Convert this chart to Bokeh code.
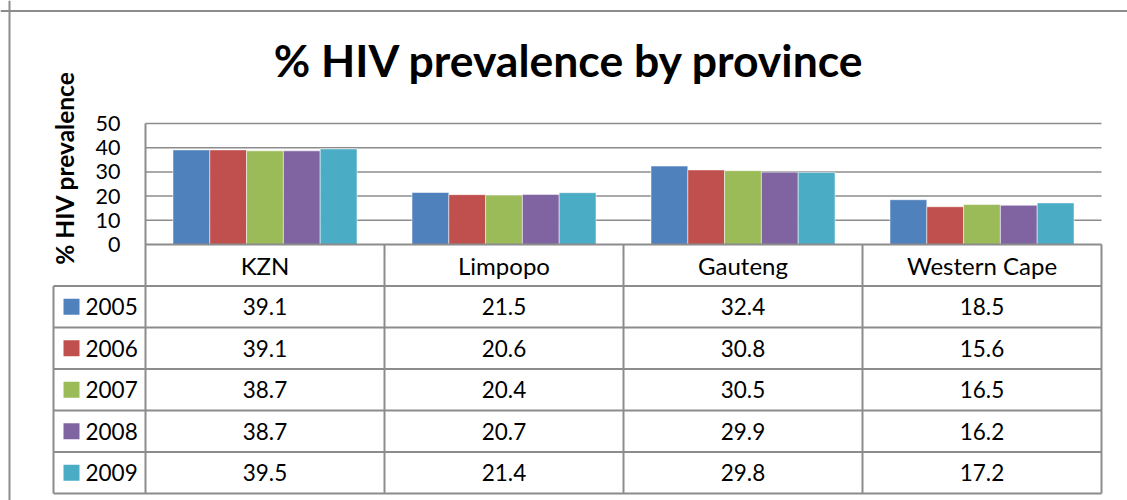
import numpy as np
from bokeh.plotting import figure
from bokeh.models import Range1d, Span
from bokeh.core.properties import value
from bokeh.embed import file_html
from bokeh.resources import INLINE

# ---------------- data ----------------
provinces = ["KZN", "Limpopo", "Gauteng", "Western Cape"]
years = ["2005", "2006", "2007", "2008", "2009"]
v2005 = [39.1, 21.5, 32.4, 18.5]
v2006 = [39.1, 20.6, 30.8, 15.6]
v2007 = [38.7, 20.4, 30.5, 16.5]
v2008 = [38.7, 20.7, 29.9, 16.2]
v2009 = [39.5, 21.4, 29.8, 17.2]
series = [v2005, v2006, v2007, v2008, v2009]
y_ticks = [0, 10, 20, 30, 40, 50]
title_text = "% HIV prevalence by province"
y_label = "% HIV prevalence"
colors = ["#4F81BD", "#C0504D", "#9BBB59", "#8064A2", "#4BACC6"]

# ---------------- layout helpers (picture pixel -> data units) ----------------
ORIGIN = 0.0
FIG_W, FIG_H = 1127, 500
CAT_PX = 239.0      # pixels per category column
Y_PX = 2.42         # pixels per percentage point
X0_PX = 145.0       # x of category 0 left edge
Y0_PX = 244.0       # y of value 0


def fx(px):
    return (px - X0_PX) / CAT_PX


def fy(py):
    return (Y0_PX - py) / Y_PX


FONT = value("Lato")
GRAY = "#8c8c8c"

p = figure(width=FIG_W, height=FIG_H,
           x_range=Range1d(fx(ORIGIN), fx(ORIGIN + FIG_W)),
           y_range=Range1d(fy(ORIGIN + FIG_H), fy(ORIGIN)),
           output_backend="svg", toolbar_location=None,
           x_axis_location=None, y_axis_location=None,
           min_border_top=0, min_border_left=0, min_border_right=0, min_border_bottom=0)
p.title.visible = False
p.outline_line_color = None
p.grid.visible = False
p.background_fill_color = "white"
p.border_fill_color = "white"

# outer chart border (top and left visible)
p.add_layout(Span(location=fx(9), dimension="height", line_color=GRAY, line_width=2))
p.add_layout(Span(location=fy(10.5), dimension="width", line_color=GRAY, line_width=2))

ncat = len(provinces)
# gridlines
grid_vals = y_ticks[1:]
p.segment(x0=[0] * len(grid_vals), x1=[ncat] * len(grid_vals), y0=grid_vals, y1=grid_vals,
          line_color=GRAY, line_width=1.5)

# bars
bw = 36.8 / CAT_PX
cx = np.arange(ncat) + 0.5
for j, (yr, vals) in enumerate(zip(years, series)):
    xs = cx + (j - (len(years) - 1) / 2) * bw
    p.vbar(x=xs, top=vals, bottom=0, width=bw, fill_color=colors[j],
           line_color="white", line_alpha=0.5, line_width=1)

# y tick labels
p.text(x=[fx(120)] * len(y_ticks), y=y_ticks, text=[str(t) for t in y_ticks],
       text_align="right", text_baseline="middle", text_font=FONT,
       text_font_size="21.5px", text_color="black")

# data table
row_h = 41.5 / Y_PX
nrows = len(years) + 1
leg_left = fx(53)
# horizontal lines
p.segment(x0=[0], x1=[ncat], y0=[0], y1=[0], line_color=GRAY, line_width=2)
hy = [-k * row_h for k in range(1, nrows + 1)]
p.segment(x0=[leg_left] * len(hy), x1=[ncat] * len(hy), y0=hy, y1=hy,
          line_color=GRAY, line_width=2)
# vertical lines
p.segment(x0=[0], x1=[0], y0=[50], y1=[-nrows * row_h], line_color=GRAY, line_width=2)
vx = list(range(1, ncat + 1))
p.segment(x0=vx, x1=vx, y0=[0] * len(vx), y1=[-nrows * row_h] * len(vx),
          line_color=GRAY, line_width=2)
p.segment(x0=[leg_left], x1=[leg_left], y0=[-row_h], y1=[-nrows * row_h],
          line_color=GRAY, line_width=2)

# header texts
p.text(x=list(cx), y=[-row_h / 2] * ncat, text=provinces, text_align="center",
       text_baseline="middle", text_font=FONT, text_font_size="24px", text_color="black")

# values
for j, (yr, vals) in enumerate(zip(years, series)):
    ry = -(j + 1.5) * row_h
    p.text(x=list(cx), y=[ry] * ncat, text=["%.1f" % v for v in vals], text_align="center",
           text_baseline="middle", text_font=FONT, text_font_size="22.5px", text_color="black")
    p.scatter(x=[fx(71)], y=[ry], marker="square", size=16, fill_color=colors[j], line_color=None)
    p.text(x=[fx(85)], y=[ry], text=[yr], text_align="left", text_baseline="middle",
           text_font=FONT, text_font_size="22.5px", text_color="black")

# title
p.text(x=[fx(569)], y=[fy(59)], text=[title_text], text_align="center",
       text_baseline="middle", text_font=FONT, text_font_style="bold",
       text_font_size="44.5px", text_color="black")

# y-axis label
p.text(x=[fx(64)], y=[fy(167.5)], text=[y_label], angle=np.pi / 2, text_align="center",
       text_baseline="middle", text_font=FONT, text_font_style="bold",
       text_font_size="24.5px", text_color="black")

open("out.html", "w").write(file_html(p, INLINE))
